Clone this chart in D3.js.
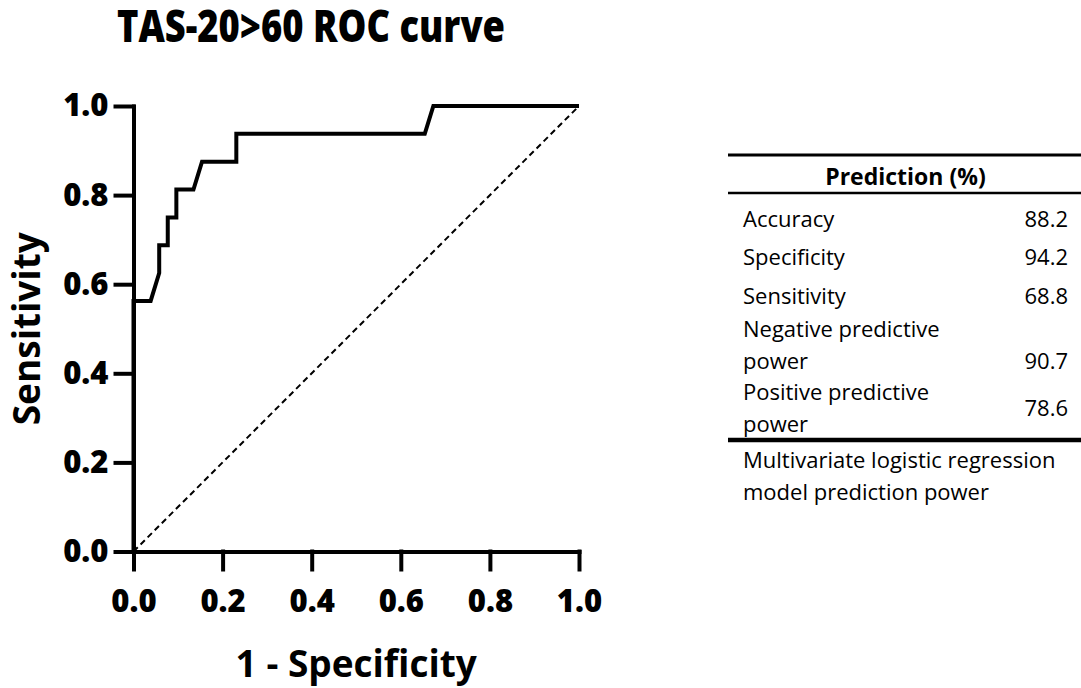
<html>
<head>
    <meta charset="utf-8">
    <title>TAS-20 ROC</title>
    <script src="https://cdn.jsdelivr.net/npm/d3@7/dist/d3.min.js"></script>
</head>
<style>
    html, body {
        margin: 0;
        padding: 0;
        background: #fff;
    }
    body {
        font-family: "Open Sans", sans-serif;
    }
    svg {
        display: block;
    }
    .axis text {
        font-family: "Open Sans", sans-serif;
        font-size: 31px;
        font-weight: 800;
        fill: #000;
    }
    .axis path, .axis line {
        stroke: #000;
        stroke-width: 4;
    }
</style>
<body>
    <svg width="1081" height="688" id="mainsvg"></svg>
    <script>
        // ROC curve points (1 - specificity, sensitivity)
        const fpr = [0, 0, 0.0385, 0.0577, 0.0577, 0.0769, 0.0769, 0.0962, 0.0962, 0.1346, 0.1538, 0.2308, 0.2308, 0.6538, 0.6731, 1];
        const tpr = [0, 0.5625, 0.5625, 0.625, 0.6875, 0.6875, 0.75, 0.75, 0.8125, 0.8125, 0.875, 0.875, 0.9375, 0.9375, 1, 1];
        const chanceLine = [0, 1];
        const ticks = [0, 0.2, 0.4, 0.6, 0.8, 1.0];

        // table on the right
        const tableHeader = "Prediction (%)";
        const rowLabels = [["Accuracy"], ["Specificity"], ["Sensitivity"], ["Negative predictive", "power"], ["Positive predictive", "power"]];
        const rowValues = ["88.2", "94.2", "68.8", "90.7", "78.6"];
        const footnote = ["Multivariate logistic regression", "model prediction power"];

        const svg = d3.select('svg');
        const margin = {top: 106, left: 133.5};
        const innerWidth = 445.5;
        const innerHeight = 445.5;

        const mainGroup = svg.append('g')
            .attr('transform', `translate(${margin.left}, ${margin.top})`);

        const xScale = d3.scaleLinear().domain([0, 1]).range([0, innerWidth]);
        const yScale = d3.scaleLinear().domain([0, 1]).range([innerHeight, 0]);

        // title
        svg.append('text')
            .attr('x', 311).attr('y', 42)
            .attr('text-anchor', 'middle')
            .attr('font-size', 44).attr('font-weight', 800)
            .attr('textLength', 388).attr('lengthAdjust', 'spacingAndGlyphs')
            .text('TAS-20>60 ROC curve');

        // axes
        const xAxisMethod = d3.axisBottom(xScale).tickValues(ticks).tickFormat(d3.format('.1f'))
            .tickSize(18).tickSizeOuter(0).tickPadding(20);
        const yAxisMethod = d3.axisLeft(yScale).tickValues(ticks).tickFormat(d3.format('.1f'))
            .tickSize(18).tickSizeOuter(0).tickPadding(7);
        const xAxisGroup = mainGroup.append('g').attr('class', 'axis').call(xAxisMethod)
            .attr('transform', `translate(0, ${innerHeight})`);
        const yAxisGroup = mainGroup.append('g').attr('class', 'axis').call(yAxisMethod);
        xAxisGroup.selectAll('line, path').attr('stroke-linecap', 'square');
        yAxisGroup.selectAll('line, path').attr('stroke-linecap', 'square');

        // axis titles
        svg.append('text')
            .attr('x', margin.left + innerWidth / 2).attr('y', 677)
            .attr('text-anchor', 'middle')
            .attr('font-size', 37).attr('font-weight', 700)
            .text('1 - Specificity');
        svg.append('text')
            .attr('transform', `translate(40, ${margin.top + innerHeight / 2}) rotate(-90)`)
            .attr('text-anchor', 'middle')
            .attr('font-size', 37).attr('font-weight', 700)
            .text('Sensitivity');

        // reference diagonal
        mainGroup.append('line')
            .attr('x1', xScale(chanceLine[0])).attr('y1', yScale(chanceLine[0]))
            .attr('x2', xScale(chanceLine[1])).attr('y2', yScale(chanceLine[1]))
            .attr('stroke', '#000').attr('stroke-width', 2)
            .attr('stroke-dasharray', '6,4');

        // ROC curve
        const line = d3.line().x(i => xScale(fpr[i])).y(i => yScale(tpr[i]));
        mainGroup.append('path')
            .datum(d3.range(fpr.length))
            .attr('d', line)
            .attr('fill', 'none')
            .attr('stroke', '#000')
            .attr('stroke-width', 4)
            .attr('stroke-linejoin', 'miter');

        // ---- table ----
        const tx0 = 728, tx1 = 1081, labelX = 743, valueX = 1068;
        const rowStart = [227, 265, 304, 337, 400];
        const lineStep = 31.5;
        const valueAlign = ['mid', 'mid', 'mid', 'bottom', 'mid'];

        const table = svg.append('g').attr('font-size', 22).attr('fill', '#000');
        table.append('line').attr('x1', tx0).attr('x2', tx1).attr('y1', 155).attr('y2', 155)
            .attr('stroke', '#000').attr('stroke-width', 3);
        table.append('text').attr('x', (tx0 + tx1) / 2 + 1).attr('y', 185)
            .attr('text-anchor', 'middle').attr('font-weight', 700).attr('font-size', 23)
            .text(tableHeader);
        table.append('line').attr('x1', tx0).attr('x2', tx1).attr('y1', 193).attr('y2', 193)
            .attr('stroke', '#000').attr('stroke-width', 2.5);

        rowLabels.forEach((lines, i) => {
            lines.forEach((s, k) => {
                table.append('text').attr('x', labelX).attr('y', rowStart[i] + k * lineStep).text(s);
            });
            const n = lines.length - 1;
            const vy = valueAlign[i] === 'bottom' ? rowStart[i] + n * lineStep : rowStart[i] + n * lineStep / 2;
            table.append('text').attr('x', valueX).attr('y', vy)
                .attr('text-anchor', 'end').text(rowValues[i]);
        });

        table.append('line').attr('x1', tx0).attr('x2', tx1).attr('y1', 440).attr('y2', 440)
            .attr('stroke', '#000').attr('stroke-width', 4.5);
        footnote.forEach((s, k) => {
            table.append('text').attr('x', labelX).attr('y', 468 + k * 32).text(s);
        });
    </script>
</body>
</html>
